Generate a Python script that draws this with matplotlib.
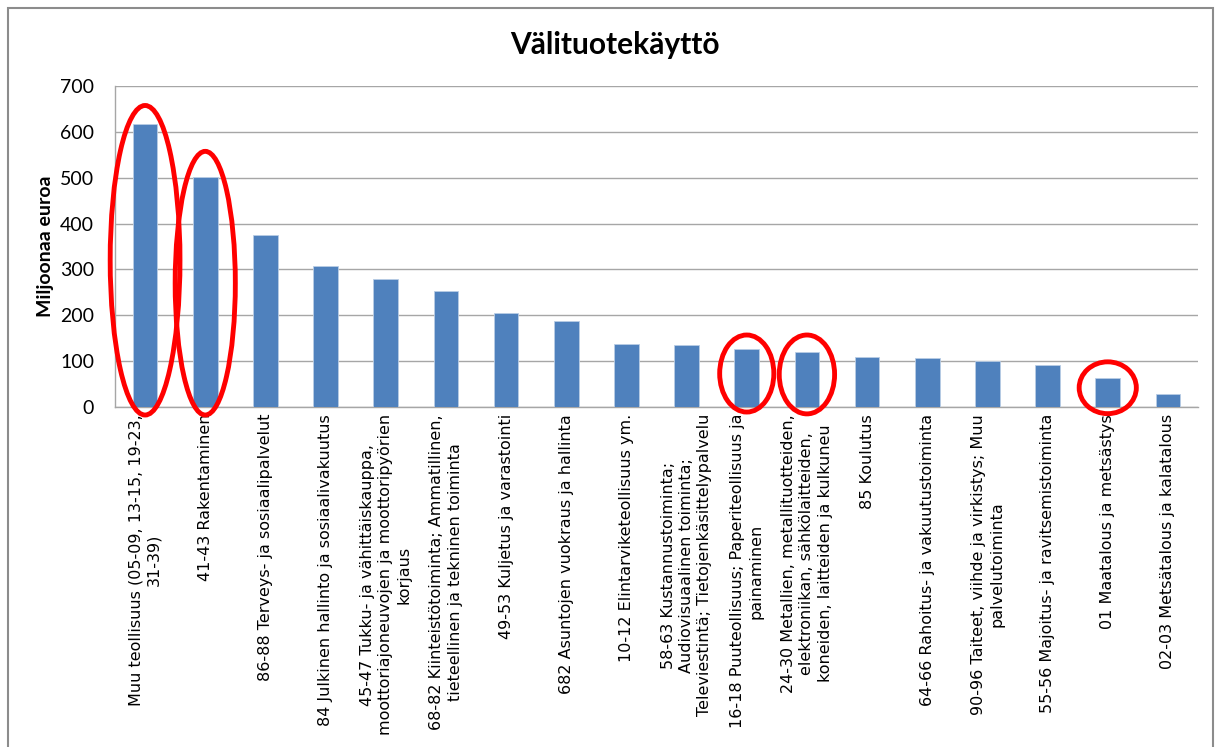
import matplotlib
matplotlib.use("Agg")
import matplotlib.pyplot as plt
from matplotlib.patches import Ellipse, Rectangle

# Data
categories = [
    "Muu teollisuus (05-09, 13-15, 19-23,\n31-39)",
    "41-43 Rakentaminen",
    "86-88 Terveys- ja sosiaalipalvelut",
    "84 Julkinen hallinto ja sosiaalivakuutus",
    "45-47 Tukku- ja vähittäiskauppa,\nmoottoriajoneuvojen ja moottoripyörien\nkorjaus",
    "68-82 Kiinteistötoiminta; Ammatillinen,\ntieteellinen ja tekninen toiminta",
    "49-53 Kuljetus ja varastointi",
    "682 Asuntojen vuokraus ja hallinta",
    "10-12 Elintarviketeollisuus ym.",
    "58-63 Kustannustoiminta;\nAudiovisuaalinen toiminta;\nTeleviestintä; Tietojenkäsittelypalvelu",
    "16-18 Puuteollisuus; Paperiteollisuus ja\npainaminen",
    "24-30 Metallien, metallituotteiden,\nelektroniikan, sähkölaitteiden,\nkoneiden, laitteiden ja kulkuneu",
    "85 Koulutus",
    "64-66 Rahoitus- ja vakuutustoiminta",
    "90-96 Taiteet, viihde ja virkistys; Muu\npalvelutoiminta",
    "55-56 Majoitus- ja ravitsemistoiminta",
    "01 Maatalous ja metsästys",
    "02-03 Metsätalous ja kalatalous",
]
values = [618, 502, 374, 307, 280, 254, 206, 188, 138, 135,
          127, 121, 109, 107.5, 100, 92, 62.5, 27.5]
y_ticks = [0, 100, 200, 300, 400, 500, 600, 700]

# highlighted bars: (category index, centre value, height in data units)
highlights = [(0, 320, 675), (1, 270, 575), (10, 73, 168), (11, 71, 172), (16, 42, 113)]
highlight_widths = [1.16, 1.0, 0.9, 0.92, 0.95]

fig = plt.figure(figsize=(12.17, 7.47), dpi=100)
fig.patch.set_facecolor("white")

# outer chart frame
fig.add_artist(Rectangle((8 / 1217, -0.05), (1213 - 8) / 1217, 1.05 - 8 / 747,
                         transform=fig.transFigure, fill=False,
                         edgecolor="#8c8c8c", linewidth=1.5))

ax = fig.add_axes([115 / 1217, 1 - 407 / 747, (1198 - 115) / 1217, (407 - 86) / 747])
x = list(range(len(categories)))
ax.bar(x, values, width=0.41, color="#4F81BD", edgecolor="#B9CDE5", linewidth=0.6, zorder=3)

ax.set_xlim(-0.5, len(categories) - 0.5)
ax.set_ylim(0, 700)
ax.set_yticks(y_ticks)
ax.set_yticklabels([str(v) for v in y_ticks], fontsize=14, family="Lato")
ax.set_xticks(x)
ax.set_xticklabels(categories, rotation=90, fontsize=11.5, family="DejaVu Sans",
                   ha="center", va="top", multialignment="center", linespacing=1.27)
ax.tick_params(axis="both", length=0)
ax.tick_params(axis="y", pad=15)
ax.tick_params(axis="x", pad=5)
ax.yaxis.grid(True, color="#a6a6a6", linewidth=1.0, zorder=0)
ax.set_axisbelow(True)
for side in ["top", "right"]:
    ax.spines[side].set_visible(False)
for side in ["left", "bottom"]:
    ax.spines[side].set_color("#a6a6a6")
    ax.spines[side].set_linewidth(1.0)

ax.set_ylabel("Miljoonaa euroa", fontsize=14, fontweight="bold", family="Lato", labelpad=4)
fig.text(615 / 1217, 1 - 45 / 747, "Välituotekäyttö", fontsize=21.5, fontweight="bold",
         family="Lato", ha="center", va="center")

for (i, yc, h), w in zip(highlights, highlight_widths):
    e = Ellipse((i, yc), w, h, fill=False, edgecolor="#FF0000", linewidth=3.5,
                clip_on=False, zorder=5)
    ax.add_patch(e)

fig.savefig("out.png", dpi=100, facecolor="white")
plt.close(fig)
